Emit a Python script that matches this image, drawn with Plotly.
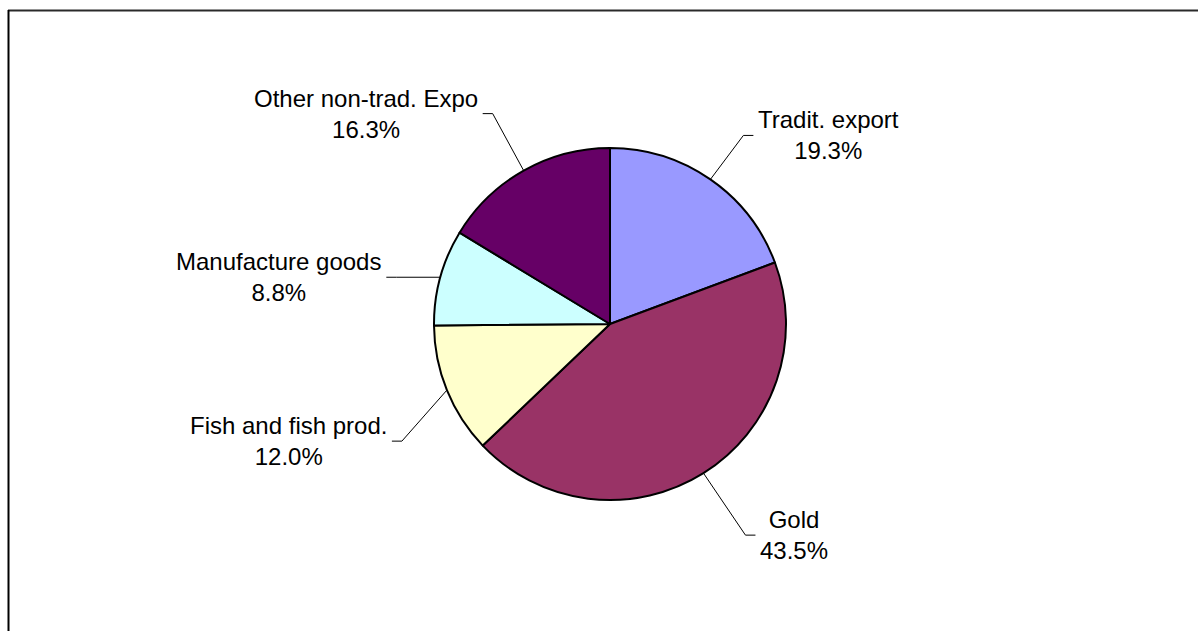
import math
import plotly.graph_objects as go

# Export structure (share of total exports, %)
categories = ["Tradit. export", "Gold", "Fish and fish prod.", "Manufacture goods", "Other non-trad. Expo"]
shares = [19.3, 43.5, 12.0, 8.8, 16.3]
colors = ["#9999FF", "#993366", "#FFFFCC", "#CCFFFF", "#660066"]

W, H = 1198, 631
CX, CY, R = 610, 324, 176          # pie centre and radius in px

# where each leader line bends, relative to the point it leaves the rim (px)
leader_bend = {
    "Tradit. export": (33, -44),
    "Gold": (42, 62),
    "Fish and fish prod.": (-45, 51),
    "Manufacture goods": (-44, 0),
    "Other non-trad. Expo": (-31, -57),
}
TAIL = 10     # horizontal run of the leader next to the label
GAP = 3       # space between leader and text

FONT = "Liberation Sans, Arial, sans-serif"


def px(x):
    return x / W


def py(y):
    return 1 - y / H


fig = go.Figure(
    go.Pie(
        labels=categories,
        values=shares,
        sort=False,
        direction="clockwise",
        rotation=0,
        marker=dict(colors=colors, line=dict(color="#000000", width=2)),
        textinfo="none",
        hoverinfo="label+percent",
        showlegend=False,
        domain=dict(x=[px(CX - R), px(CX + R)], y=[py(CY + R), py(CY - R)]),
    )
)

total = sum(shares)
cum = 0.0
shapes = []
annotations = []
for name, val in zip(categories, shares):
    mid = math.radians((cum + val / 2) / total * 360.0)
    cum += val
    ex = CX + R * math.sin(mid)
    ey = CY - R * math.cos(mid)
    dx, dy = leader_bend[name]
    bx, by = ex + dx, ey + dy
    right = math.sin(mid) > 0
    tx = bx + TAIL if right else bx - TAIL
    shapes.append(dict(
        type="path", xref="paper", yref="paper",
        path=f"M {px(ex)} {py(ey)} L {px(bx)} {py(by)} L {px(tx)} {py(by)}",
        line=dict(color="#000000", width=1),
    ))
    annotations.append(dict(
        x=px(tx + (GAP if right else -GAP)), y=py(by),
        xref="paper", yref="paper",
        xanchor="left" if right else "right", yanchor="middle",
        text=f"{name}<br>{val:.1f}%",
        showarrow=False, align="center",
        font=dict(family=FONT, size=24, color="#000000"),
    ))

# chart frame
shapes.append(dict(type="line", xref="paper", yref="paper",
                   x0=px(8), x1=1.0, y0=py(10.5), y1=py(10.5),
                   line=dict(color="#2a2a2a", width=2)))
shapes.append(dict(type="line", xref="paper", yref="paper",
                   x0=px(8.5), x1=px(8.5), y0=py(10), y1=0.0,
                   line=dict(color="#000000", width=2)))

fig.update_layout(
    width=W, height=H,
    margin=dict(l=0, r=0, t=0, b=0),
    paper_bgcolor="#FFFFFF",
    plot_bgcolor="#FFFFFF",
    shapes=shapes,
    annotations=annotations,
    font=dict(family=FONT),
)

fig.write_html("out.html")
